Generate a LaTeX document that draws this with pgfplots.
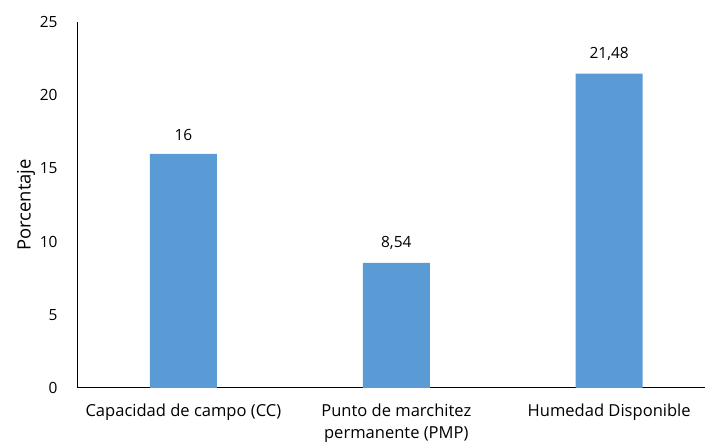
\documentclass[border=0pt]{standalone}
\usepackage{pgfplots}
\pgfplotsset{compat=1.18}
\usepackage{fontspec}
\setmainfont{Open Sans}
\definecolor{barblue}{HTML}{5B9BD5}
\begin{document}
\begin{tikzpicture}[x=1bp,y=1bp]
\path[use as bounding box] (-78,-57) rectangle (627,388);
\begin{axis}[
  at={(0,0)}, anchor=south west,
  scale only axis, width=627bp, height=366bp,
  axis x line*=bottom, axis y line*=left,
  axis line style={black, line width=1bp},
  xmin=-0.495, xmax=2.45, ymin=0, ymax=25,
  ytick={0,5,...,25},
  xtick={0,1,2},
  xticklabels={Capacidad de campo (CC), {Punto de marchitez\\permanente (PMP)}, Humedad Disponible},
  x tick label style={align=center, font=\fontsize{16.6}{22}\selectfont, yshift=-12bp},
  y tick label style={font=\fontsize{15.5}{18}\selectfont, xshift=-17bp},
  major tick length=0pt,
  ylabel={Porcentaje}, ylabel style={font=\fontsize{18.5}{21}\selectfont, yshift=-2bp},
  /pgf/number format/assume math mode=true,
  ybar, bar width=67bp,
  nodes near coords,
  nodes near coords style={font=\fontsize{15.5}{18}\selectfont, /pgf/number format/use comma, /pgf/number format/precision=2, yshift=10bp},
]
\addplot[fill=barblue, draw=none] coordinates {(0,16) (1,8.54) (2,21.48)};
\end{axis}
\end{tikzpicture}
\end{document}
